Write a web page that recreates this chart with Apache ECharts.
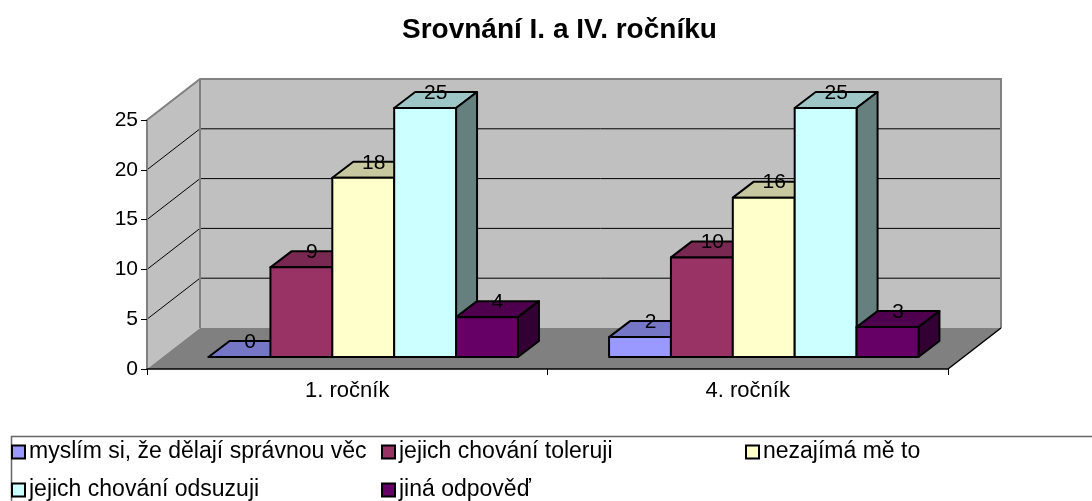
<!DOCTYPE html>
<html>
<head>
<meta charset="utf-8">
<script src="https://cdn.jsdelivr.net/npm/echarts@6/dist/echarts.min.js"></script>
<style>html,body{margin:0;padding:0;background:#fff;}#main{width:1092px;height:501px;}</style>
</head>
<body>
<div id="main"></div>
<script>
// ---- data ----
const categories = ['1. ročník', '4. ročník'];
const seriesNames = ['myslím si, že dělají správnou věc', 'jejich chování toleruji', 'nezajímá mě to', 'jejich chování odsuzuji', 'jiná odpověď'];
const valuesRight = [0, 2];         // myslím si, že dělají správnou věc
const valuesTolerate = [9, 10];     // jejich chování toleruji
const valuesIndifferent = [18, 16]; // nezajímá mě to
const valuesCondemn = [25, 25];     // jejich chování odsuzuji
const valuesOther = [4, 3];         // jiná odpověď
const yTicks = [0, 5, 10, 15, 20, 25];

// ---- styling ----
const FONT = 'Liberation Sans, Arial, sans-serif';
const frontColors = ['#9999ff', '#993366', '#ffffcc', '#ccffff', '#660066'];
const topColors   = ['#7676c6', '#792851', '#c8c8a0', '#9ec6c6', '#4e004e'];
const sideColors  = ['#5c5c99', '#5c1f3d', '#99997a', '#668080', '#330033'];
const DX = 53, DY = -41;      // wall depth
const FX = 16, FY = -12;      // bar front offset
const BDX = 21, BDY = -16;    // bar depth
const GROUP_RATIO = 0.7725;
const N = 5;
const allValues = [valuesRight, valuesTolerate, valuesIndifferent, valuesCondemn, valuesOther];
// legend slot positions (left, top) for each series
const legendSlots = [[11, 440], [381, 440], [745, 440], [11, 478], [381, 478]];

function frameRender(params, api) {
  const cs = params.coordSys;
  const x0 = cs.x, x1 = cs.x + cs.width;
  const y0 = api.coord([0, 0])[1];
  const yTop = api.coord([0, yTicks[yTicks.length - 1]])[1];
  const children = [];
  children.push({type: 'polygon', shape: {points: [[x0, yTop], [x0 + DX, yTop + DY], [x0 + DX, y0 + DY], [x0, y0]]}, style: {fill: '#c0c0c0'}});
  children.push({type: 'polygon', shape: {points: [[x0 + DX, yTop + DY], [x1 + DX, yTop + DY], [x1 + DX, y0 + DY], [x0 + DX, y0 + DY]]}, style: {fill: '#c0c0c0'}});
  children.push({type: 'polygon', shape: {points: [[x0, y0], [x0 + DX, y0 + DY], [x1 + DX, y0 + DY], [x1, y0]]}, style: {fill: '#808080'}});
  yTicks.forEach(v => {
    if (v === 0 || v === yTicks[yTicks.length - 1]) return;
    const y = api.coord([0, v])[1];
    children.push({type: 'polyline', shape: {points: [[x0, y], [x0 + DX, y + DY], [x1 + DX, y + DY]]}, style: {stroke: '#000', lineWidth: 1, fill: null}});
  });
  children.push({type: 'polyline', shape: {points: [[x0, yTop], [x0 + DX, yTop + DY], [x1 + DX, yTop + DY], [x1 + DX, y0 + DY]]}, style: {stroke: '#808080', lineWidth: 2, fill: null}});
  children.push({type: 'line', shape: {x1: x0 + DX, y1: yTop + DY, x2: x0 + DX, y2: y0 + DY}, style: {stroke: '#808080', lineWidth: 2}});
  children.push({type: 'line', shape: {x1: x1, y1: y0, x2: x1 + DX, y2: y0 + DY}, style: {stroke: '#000', lineWidth: 1.5}});
  return {type: 'group', children: children};
}

function makeBarRender(sIdx) {
  return function (params, api) {
    const ci = api.value(0), v = api.value(1);
    const top = api.coord([ci, v]);
    const base = api.coord([ci, 0]);
    const band = api.size([1, 0])[0];
    const groupW = band * GROUP_RATIO;
    const bw = groupW / N;
    const xl = top[0] - groupW / 2 + sIdx * bw + FX;
    const xr = xl + bw;
    const yb = base[1] + FY;
    const yt = top[1] + FY;
    const edge = {stroke: '#000', lineWidth: 2, lineJoin: 'round'};
    return {
      type: 'group',
      children: [
        {type: 'polygon', shape: {points: [[xl, yt], [xl + BDX, yt + BDY], [xr + BDX, yt + BDY], [xr, yt]]}, style: Object.assign({fill: topColors[sIdx]}, edge)},
        {type: 'polygon', shape: {points: [[xr, yt], [xr + BDX, yt + BDY], [xr + BDX, yb + BDY], [xr, yb]]}, style: Object.assign({fill: sideColors[sIdx]}, edge)},
        {type: 'polygon', shape: {points: [[xl, yt], [xr, yt], [xr, yb], [xl, yb]]}, style: Object.assign({fill: frontColors[sIdx]}, edge)},
        {type: 'text', x: xl + bw / 2 + BDX / 2, y: yt + BDY + 1, z2: 10,
          style: {text: String(v), align: 'center', verticalAlign: 'middle', fontSize: 21, fontFamily: FONT, fill: '#000'}}
      ]
    };
  };
}

const series = [{
  type: 'custom', name: '_frame', silent: true, z: 1,
  data: [[0, 0]],
  renderItem: frameRender
}];
allValues.forEach((vals, s) => {
  series.push({
    type: 'custom', name: seriesNames[s], z: 3 + s,
    itemStyle: {color: frontColors[s]},
    data: vals.map((v, i) => [i, v]),
    renderItem: makeBarRender(s)
  });
});

const legends = seriesNames.map((name, s) => ({
  left: legendSlots[s][0], top: legendSlots[s][1], data: [name],
  orient: 'horizontal', padding: 0, itemWidth: 13, itemHeight: 13,
  icon: 'rect', selectedMode: false,
  itemStyle: {borderColor: '#000', borderWidth: 2},
  textStyle: {fontSize: 23, fontFamily: FONT, color: '#000', lineHeight: 24, padding: [0, 0, 0, -1]}
}));

const chart = echarts.init(document.getElementById('main'));
chart.setOption({
  animation: false,
  title: {text: 'Srovnání I. a IV. ročníku', left: 402, top: 16, padding: 0,
    textStyle: {fontSize: 28, fontWeight: 'bold', fontFamily: FONT, color: '#000'}},
  grid: {left: 147, right: 144, top: 120, bottom: 132},
  xAxis: {
    type: 'category', data: categories, z: 10,
    axisLine: {lineStyle: {color: '#000', width: 1.5}},
    axisTick: {show: true, length: 6, lineStyle: {color: '#000'}},
    axisLabel: {fontSize: 22, fontFamily: FONT, color: '#000', margin: 11}
  },
  yAxis: {
    type: 'value', min: 0, max: 25, interval: 5, z: 10,
    axisLine: {show: true, lineStyle: {color: '#808080', width: 2}},
    axisTick: {show: true, length: 6, lineStyle: {color: '#000'}},
    splitLine: {show: false},
    axisLabel: {fontSize: 21, fontFamily: FONT, color: '#000', margin: 9}
  },
  legend: legends,
  graphic: [{
    type: 'rect', left: 9, top: 434, silent: true,
    shape: {width: 1100, height: 100},
    style: {fill: null, stroke: '#666', lineWidth: 1.5}
  }],
  series: series
});
</script>
</body>
</html>
